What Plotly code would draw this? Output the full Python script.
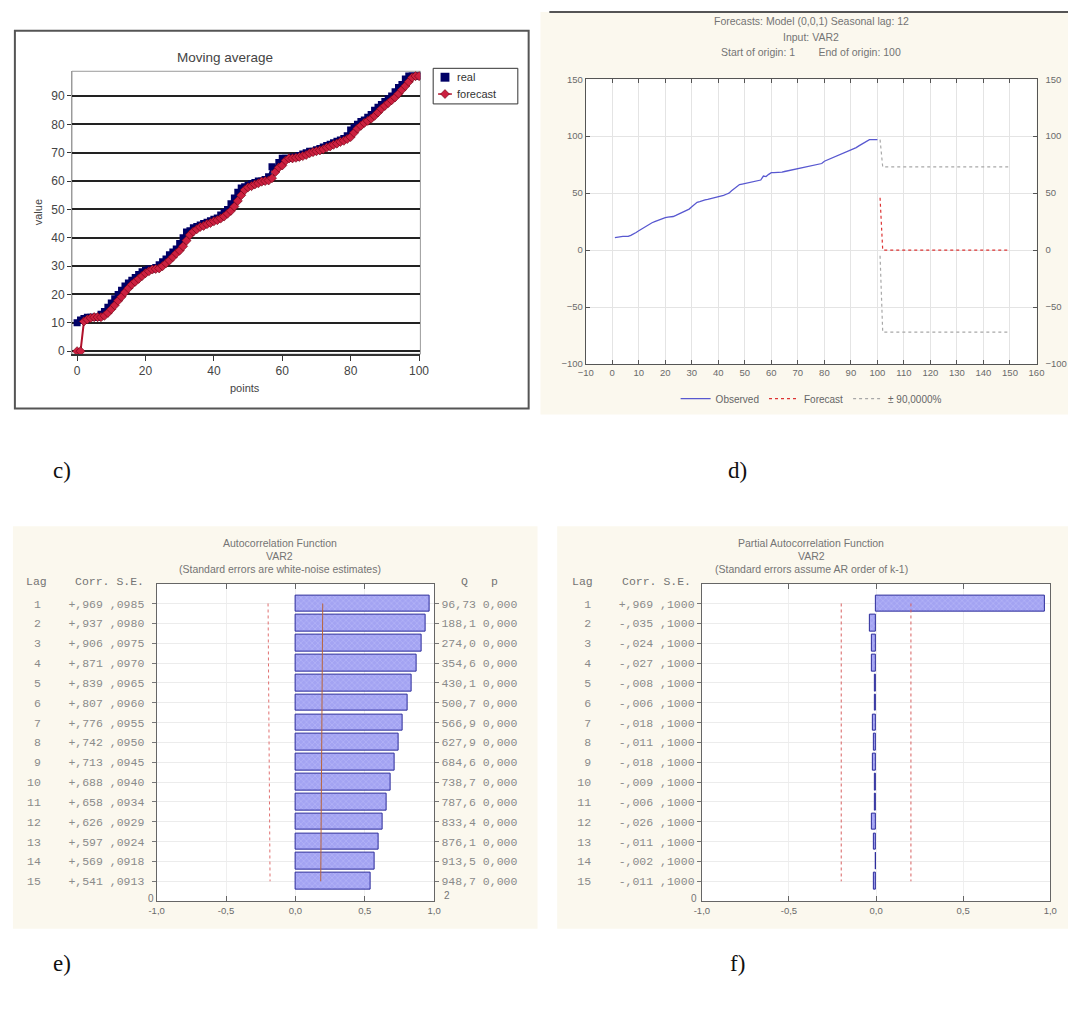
import plotly.graph_objects as go

W, H = 1077, 1010
def fx(p): return p / W
def fy(p): return 1 - p / H

# ---------------- data ----------------
# panel c: moving average
points = list(range(101))
real_values = [
    10, 11, 11.5, 12, 12, 12, 12, 13, 14, 15.5,
    17, 18.5, 20, 21.5, 23, 24, 25, 26, 27, 28,
    28.5, 29, 29, 29.5, 30.5, 31.5, 32.5, 34, 35, 36,
    38, 40, 42, 42.5, 43.5, 44, 44.5, 45, 45.5, 46,
    46.5, 47, 48, 49, 50, 52, 54, 56, 57.5, 58,
    58.5, 59, 59.5, 60, 60, 60.5, 61.5, 65, 64.5, 66.5,
    68, 68, 68, 68.5, 68.5, 69, 69.5, 70, 70.5, 70.5,
    71, 71.5, 72, 72.5, 73, 73.5, 74, 74.5, 75, 76,
    78, 79, 80, 81, 81.5, 82.5, 83.5, 85, 86, 87,
    88, 89, 90, 91.5, 93, 94, 96, 97, 97, 97,
    97]
forecast_values = [
    0, 0, 10.5, 11.2, 11.7, 12, 12, 12, 12.5, 13.5,
    14.8, 16.2, 17.8, 19.2, 20.8, 22.2, 23.5, 24.5, 25.5, 26.5,
    27.5, 28.2, 28.8, 29, 29.2, 30, 31, 32, 33.2, 34.5,
    35.5, 37, 39, 41, 42.2, 43, 43.8, 44.2, 44.8, 45.2,
    45.8, 46.2, 46.8, 47.5, 48.5, 49.5, 51, 53, 55, 56.8,
    57.8, 58.2, 58.8, 59.2, 59.8, 60, 60.2, 61, 63.2, 64.8,
    65.5, 67.2, 68, 68, 68.2, 68.5, 68.8, 69.2, 69.8, 70.2,
    70.5, 70.8, 71.2, 71.8, 72.2, 72.8, 73.2, 73.8, 74.2, 74.8,
    75.5, 77, 78.5, 79.5, 80.5, 81.2, 82, 83, 84.2, 85.5,
    86.5, 87.5, 88.5, 89.5, 90.8, 92.2, 93.5, 95, 96.5, 97,
    97]
series_names_c = ["real", "forecast"]

# panel d: ARIMA forecast
obs_time = list(range(1, 101))
observed_values = real_values[1:]
fc_time = list(range(101, 151))
fc_values = [46.0] + [0.0] * 49
fc_upper = [97.0] + [73.0] * 49
fc_lower = [-5.0] + [-72.0] * 49

# panel e: ACF
acf_lags = list(range(1, 16))
acf_corr = [0.969, 0.937, 0.906, 0.871, 0.839, 0.807, 0.776, 0.742,
            0.713, 0.688, 0.658, 0.626, 0.597, 0.569, 0.541]
acf_se = [0.0985, 0.0980, 0.0975, 0.0970, 0.0965, 0.0960, 0.0955, 0.0950,
          0.0945, 0.0940, 0.0934, 0.0929, 0.0924, 0.0918, 0.0913]
acf_q = [96.73, 188.1, 274.0, 354.6, 430.1, 500.7, 566.9, 627.9,
         684.6, 738.7, 787.6, 833.4, 876.1, 913.5, 948.7]
acf_p = [0.0] * 15

# panel f: PACF
pacf_lags = list(range(1, 16))
pacf_corr = [0.969, -0.035, -0.024, -0.027, -0.008, -0.006, -0.018, -0.011,
             -0.018, -0.009, -0.006, -0.026, -0.011, -0.002, -0.011]
pacf_se = [0.1] * 15

xtick_vals_cf = [-1, -0.5, 0, 0.5, 1]
xtick_text_cf = ["-1,0", "-0,5", "0,0", "0,5", "1,0"]


def fmt_corr(c):
    return f"{c:+.3f}".replace("0.", ",")


def fmt_se(s):
    return f"{s:.4f}"[1:].replace(".", ",")


def fmt_q(q):
    return (f"{q:.2f}" if q < 100 else f"{q:.1f}").replace(".", ",")


acf_left = [f"{l:>2}    {fmt_corr(c)} {fmt_se(s)}" for l, c, s in zip(acf_lags, acf_corr, acf_se)]
acf_right = [f"{fmt_q(q)} {p:.3f}".replace(".", ",") for q, p in zip(acf_q, acf_p)]
pacf_left = [f"{l:>2}    {fmt_corr(c)} {fmt_se(s)}" for l, c, s in zip(pacf_lags, pacf_corr, pacf_se)]

CREAM = "#FBF8EE"
GRAYTXT = "#747474"
MONO = "Liberation Mono"
SANS = "Liberation Sans"
TBL = 11.5

# pixel layout
C_PLOT = (65, 419, 66, 352)
D_PLOT = (587, 1045, 74, 362)
E_PLOT = (151, 433, 584, 905)
F_PLOT = (705, 1059, 584, 905)

REAL_COLOR = "#000066"
FC_LINE = "#b0102a"
FC_MARK = "#cc2040"

fig = go.Figure()

# ---------------- panel c traces ----------------
fig.add_trace(go.Scatter(x=points, y=real_values, mode="lines+markers", name=series_names_c[0],
                         line=dict(color=REAL_COLOR, width=2),
                         marker=dict(symbol="square", size=7, color=REAL_COLOR),
                         showlegend=False, xaxis="x", yaxis="y"))
fig.add_trace(go.Scatter(x=points, y=forecast_values, mode="lines+markers", name=series_names_c[1],
                         line=dict(color=FC_LINE, width=2),
                         marker=dict(symbol="diamond", size=7, color=FC_MARK,
                                     line=dict(color="#6a0010", width=0.6)),
                         showlegend=False, xaxis="x", yaxis="y"))

# ---------------- panel d traces ----------------
fig.add_trace(go.Scatter(x=obs_time, y=observed_values, mode="lines", name="Observed",
                         line=dict(color="#5858d0", width=1.3),
                         xaxis="x2", yaxis="y2", legend="legend2"))
fig.add_trace(go.Scatter(x=fc_time, y=fc_values, mode="lines", name="Forecast",
                         line=dict(color="#dd3333", width=1.2, dash="dot"),
                         xaxis="x2", yaxis="y2", legend="legend2"))
fig.add_trace(go.Scatter(x=fc_time, y=fc_upper, mode="lines", name="± 90,0000%",
                         line=dict(color="#a8a8a8", width=1.2, dash="dot"),
                         xaxis="x2", yaxis="y2", legend="legend2"))
fig.add_trace(go.Scatter(x=fc_time, y=fc_lower, mode="lines", name="± 90,0000%",
                         line=dict(color="#a8a8a8", width=1.2, dash="dot"), showlegend=False,
                         xaxis="x2", yaxis="y2", legend="legend2"))
fig.add_trace(go.Scatter(x=[0], y=[0], mode="markers", marker=dict(opacity=0),
                         showlegend=False, xaxis="x2", yaxis="y3"))

# ---------------- panel e traces ----------------
bar_marker = dict(color="#a3a3f2", line=dict(color="#2a2a9a", width=1),
                  pattern=dict(shape="x", bgcolor="#a3a3f2", fgcolor="#c8c8ff",
                               size=4, solidity=0.3))
fig.add_trace(go.Bar(x=acf_corr, y=acf_lags, orientation="h", width=0.84,
                     marker=bar_marker, showlegend=False, xaxis="x3", yaxis="y4"))
fig.add_trace(go.Scatter(x=[-2 * s for s in acf_se], y=acf_lags, mode="lines",
                         line=dict(color="#e07070", width=1, dash="dot"),
                         showlegend=False, xaxis="x3", yaxis="y4"))
fig.add_trace(go.Scatter(x=[2 * s for s in acf_se], y=acf_lags, mode="lines",
                         line=dict(color="#b8643c", width=1),
                         showlegend=False, xaxis="x3", yaxis="y4"))
fig.add_trace(go.Scatter(x=[0], y=[1], mode="markers", marker=dict(opacity=0),
                         showlegend=False, xaxis="x3", yaxis="y5"))

# ---------------- panel f traces ----------------
fig.add_trace(go.Bar(x=pacf_corr, y=pacf_lags, orientation="h", width=0.84,
                     marker=bar_marker, showlegend=False, xaxis="x4", yaxis="y6"))
fig.add_trace(go.Scatter(x=[-2 * s for s in pacf_se], y=pacf_lags, mode="lines",
                         line=dict(color="#d86060", width=1, dash="dot"),
                         showlegend=False, xaxis="x4", yaxis="y6"))
fig.add_trace(go.Scatter(x=[2 * s for s in pacf_se], y=pacf_lags, mode="lines",
                         line=dict(color="#d86060", width=1, dash="dot"),
                         showlegend=False, xaxis="x4", yaxis="y6"))


def prect(x0, x1, y0, y1, fill, line=None, layer="below"):
    return dict(type="rect", xref="paper", yref="paper", x0=fx(x0), x1=fx(x1),
                y0=fy(y1), y1=fy(y0), fillcolor=fill,
                line=line if line else dict(width=0), layer=layer)


def pline(x0, x1, y0, y1, color, width, layer="below"):
    return dict(type="line", xref="paper", yref="paper", x0=fx(x0), x1=fx(x1),
                y0=fy(y0), y1=fy(y1), line=dict(color=color, width=width), layer=layer)


# manual legend for panel c (Excel-style compact box)
LEG = (432, 518, 63, 99)
leg_rows = [72, 89]
diamond = (f"M {fx(444)},{fy(leg_rows[1] - 4.5)} L {fx(448.5)},{fy(leg_rows[1])} "
           f"L {fx(444)},{fy(leg_rows[1] + 4.5)} L {fx(439.5)},{fy(leg_rows[1])} Z")

shapes = [
    # panel c frame and plot border
    prect(7, 529, 25, 407, "white", dict(color="#555555", width=2)),
    prect(C_PLOT[0], C_PLOT[1], C_PLOT[2], C_PLOT[3], "rgba(0,0,0,0)", dict(color="#9a9a9a", width=1)),
    # panel c legend
    prect(LEG[0], LEG[1], LEG[2], LEG[3], "white", dict(color="#333333", width=1), layer="above"),
    prect(439.5, 448.5, leg_rows[0] - 4.5, leg_rows[0] + 4.5, REAL_COLOR, layer="above"),
    pline(437, 451, leg_rows[1], leg_rows[1], FC_LINE, 1.5, layer="above"),
    dict(type="path", xref="paper", yref="paper", path=diamond, fillcolor=FC_MARK,
         line=dict(color="#6a0010", width=0.6), layer="above"),
    # panel d background
    prect(541, 1077, 6, 413, CREAM),
    pline(550, 1077, 6, 6, "#555555", 2),
    prect(D_PLOT[0], D_PLOT[1], D_PLOT[2], D_PLOT[3], "white"),
    # panel e background
    prect(5, 538, 526, 933, CREAM),
    prect(E_PLOT[0], E_PLOT[1], E_PLOT[2], E_PLOT[3], "white"),
    # panel f background
    prect(558, 1077, 526, 933, CREAM),
    prect(F_PLOT[0], F_PLOT[1], F_PLOT[2], F_PLOT[3], "white"),
]


def ann(text, x, y, size=11, color=GRAYTXT, family=SANS, xanchor="center", yanchor="middle", angle=0):
    return dict(text=text, x=fx(x), y=fy(y), xref="paper", yref="paper", showarrow=False,
                font=dict(size=size, color=color, family=family), xanchor=xanchor,
                yanchor=yanchor, textangle=angle)


annotations = [
    # panel c
    ann("Moving average", 220, 52, size=13.5, color="#444444"),
    ann("value", 30, 209, size=11, color="#444444", angle=-90),
    ann("points", 241, 386, size=11, color="#444444"),
    ann(series_names_c[0], 454, leg_rows[0], size=11, color="#333333", xanchor="left"),
    ann(series_names_c[1], 454, leg_rows[1], size=11, color="#333333", xanchor="left"),
    # panel d
    ann("Forecasts: Model (0,0,1) Seasonal lag: 12", 816, 15, size=10.5),
    ann("Input: VAR2", 816, 31, size=10.5),
    ann("Start of origin: 1        End of origin: 100", 816, 47, size=10.5),
    # panel e
    ann("Autocorrelation Function", 276, 543, size=10.5),
    ann("VAR2", 276, 556, size=10.5),
    ann("(Standard errors are white-noise estimates)", 276, 569, size=10.5),
    ann("Lag", 16, 582, size=TBL, family=MONO, xanchor="left"),
    ann("Corr. S.E.", 140, 582, size=TBL, family=MONO, xanchor="right"),
    ann("Q", 464, 582, size=TBL, family=MONO),
    ann("p", 494, 582, size=TBL, family=MONO),
    ann("0", 145, 902, size=10),
    ann("2", 446, 899, size=10),
    # panel f
    ann("Partial Autocorrelation Function", 816, 543, size=10.5),
    ann("VAR2", 816, 556, size=10.5),
    ann("(Standard errors assume AR order of k-1)", 816, 569, size=10.5),
    ann("Lag", 571, 582, size=TBL, family=MONO, xanchor="left"),
    ann("Corr. S.E.", 696, 582, size=TBL, family=MONO, xanchor="right"),
    ann("0", 697, 902, size=10),
    # panel labels
    ann("c)", 55, 470, size=23, color="#111111", family="Liberation Serif"),
    ann("d)", 741, 470, size=23, color="#111111", family="Liberation Serif"),
    ann("e)", 55, 968, size=23, color="#111111", family="Liberation Serif"),
    ann("f)", 741, 968, size=23, color="#111111", family="Liberation Serif"),
]

tick9 = dict(size=9.5, color="#6a6a6a", family=SANS)

cf_x_common = dict(range=[-1, 1], tickmode="array", tickvals=xtick_vals_cf, ticktext=xtick_text_cf,
                   ticks="inside", ticklen=5, tickcolor="#666666", mirror="ticks",
                   showline=True, linecolor="#666666", linewidth=1, showgrid=True,
                   gridcolor="#efefef", zeroline=False, tickfont=tick9, fixedrange=True)
cf_y_common = dict(range=[16, 0], tickmode="array", tickvals=acf_lags, ticks="outside",
                   ticklen=4, tickcolor="#777777", showline=True, linecolor="#666666",
                   linewidth=1, mirror=True, showgrid=True, gridcolor="#ececec",
                   zeroline=False, tickfont=dict(size=TBL, color="#8a8a8a", family=MONO),
                   fixedrange=True)

fig.update_layout(
    width=W, height=H, margin=dict(l=0, r=0, t=0, b=0),
    paper_bgcolor="white", plot_bgcolor="rgba(0,0,0,0)", hovermode=False,
    barmode="overlay", bargap=0,
    shapes=shapes, annotations=annotations,
    # ---- panel c ----
    xaxis=dict(domain=[fx(C_PLOT[0]), fx(C_PLOT[1])], anchor="y", range=[-1.5, 100.4],
               tickmode="array", tickvals=[0, 20, 40, 60, 80, 100],
               ticks="outside", ticklen=5, tickcolor="#333333",
               showline=True, linecolor="#333333", linewidth=1.5,
               showgrid=False, zeroline=False,
               tickfont=dict(size=12, color="#444444", family=SANS)),
    yaxis=dict(domain=[fy(C_PLOT[3]), fy(C_PLOT[2])], anchor="x", range=[-1.05, 98.7],
               tickmode="array", tickvals=list(range(0, 100, 10)),
               ticks="outside", ticklen=4, tickcolor="#333333",
               showline=True, linecolor="#9a9a9a",
               showgrid=True, gridcolor="#222222", gridwidth=1.5, zeroline=False,
               tickfont=dict(size=12, color="#444444", family=SANS)),
    # ---- panel d ----
    xaxis2=dict(domain=[fx(D_PLOT[0]), fx(D_PLOT[1])], anchor="y2", range=[-10, 160], dtick=10,
                tick0=-10, ticks="inside", ticklen=4, tickcolor="#555555", mirror="ticks",
                showline=True, linecolor="#555555", showgrid=True, gridcolor="#e4e4e4",
                zeroline=False, tickfont=tick9),
    yaxis2=dict(domain=[fy(D_PLOT[3]), fy(D_PLOT[2])], anchor="x2", range=[-100, 150], dtick=50,
                ticks="inside", ticklen=4, tickcolor="#555555", mirror="ticks",
                showline=True, linecolor="#555555", showgrid=True, gridcolor="#e4e4e4",
                zeroline=False, tickfont=tick9),
    yaxis3=dict(overlaying="y2", side="right", anchor="x2", range=[-100, 150], dtick=50,
                showgrid=False, showline=False, zeroline=False, ticks="", tickfont=tick9,
                ticklabelstandoff=8),
    legend2=dict(orientation="h", x=fx(816), y=fy(397), xanchor="center", yanchor="middle",
                 bgcolor="rgba(0,0,0,0)", font=dict(size=10, color="#666666", family=SANS),
                 itemwidth=30),
    # ---- panel e ----
    xaxis3=dict(domain=[fx(E_PLOT[0]), fx(E_PLOT[1])], anchor="y4", **cf_x_common),
    yaxis4=dict(domain=[fy(E_PLOT[3]), fy(E_PLOT[2])], anchor="x3", ticktext=acf_left,
                ticklabelstandoff=5, **cf_y_common),
    yaxis5=dict(overlaying="y4", side="right", anchor="x3", range=[16, 0], tickmode="array",
                tickvals=acf_lags, ticktext=acf_right, ticks="outside", ticklen=4,
                tickcolor="#777777", showgrid=False, showline=False, zeroline=False,
                tickfont=dict(size=TBL, color="#8a8a8a", family=MONO)),
    # ---- panel f ----
    xaxis4=dict(domain=[fx(F_PLOT[0]), fx(F_PLOT[1])], anchor="y6", **cf_x_common),
    yaxis6=dict(domain=[fy(F_PLOT[3]), fy(F_PLOT[2])], anchor="x4", ticktext=pacf_left,
                **cf_y_common),
)

fig.write_html("out.html", config={"displayModeBar": False},
               post_script="document.body.style.margin='0px';document.body.style.overflow='hidden';")
